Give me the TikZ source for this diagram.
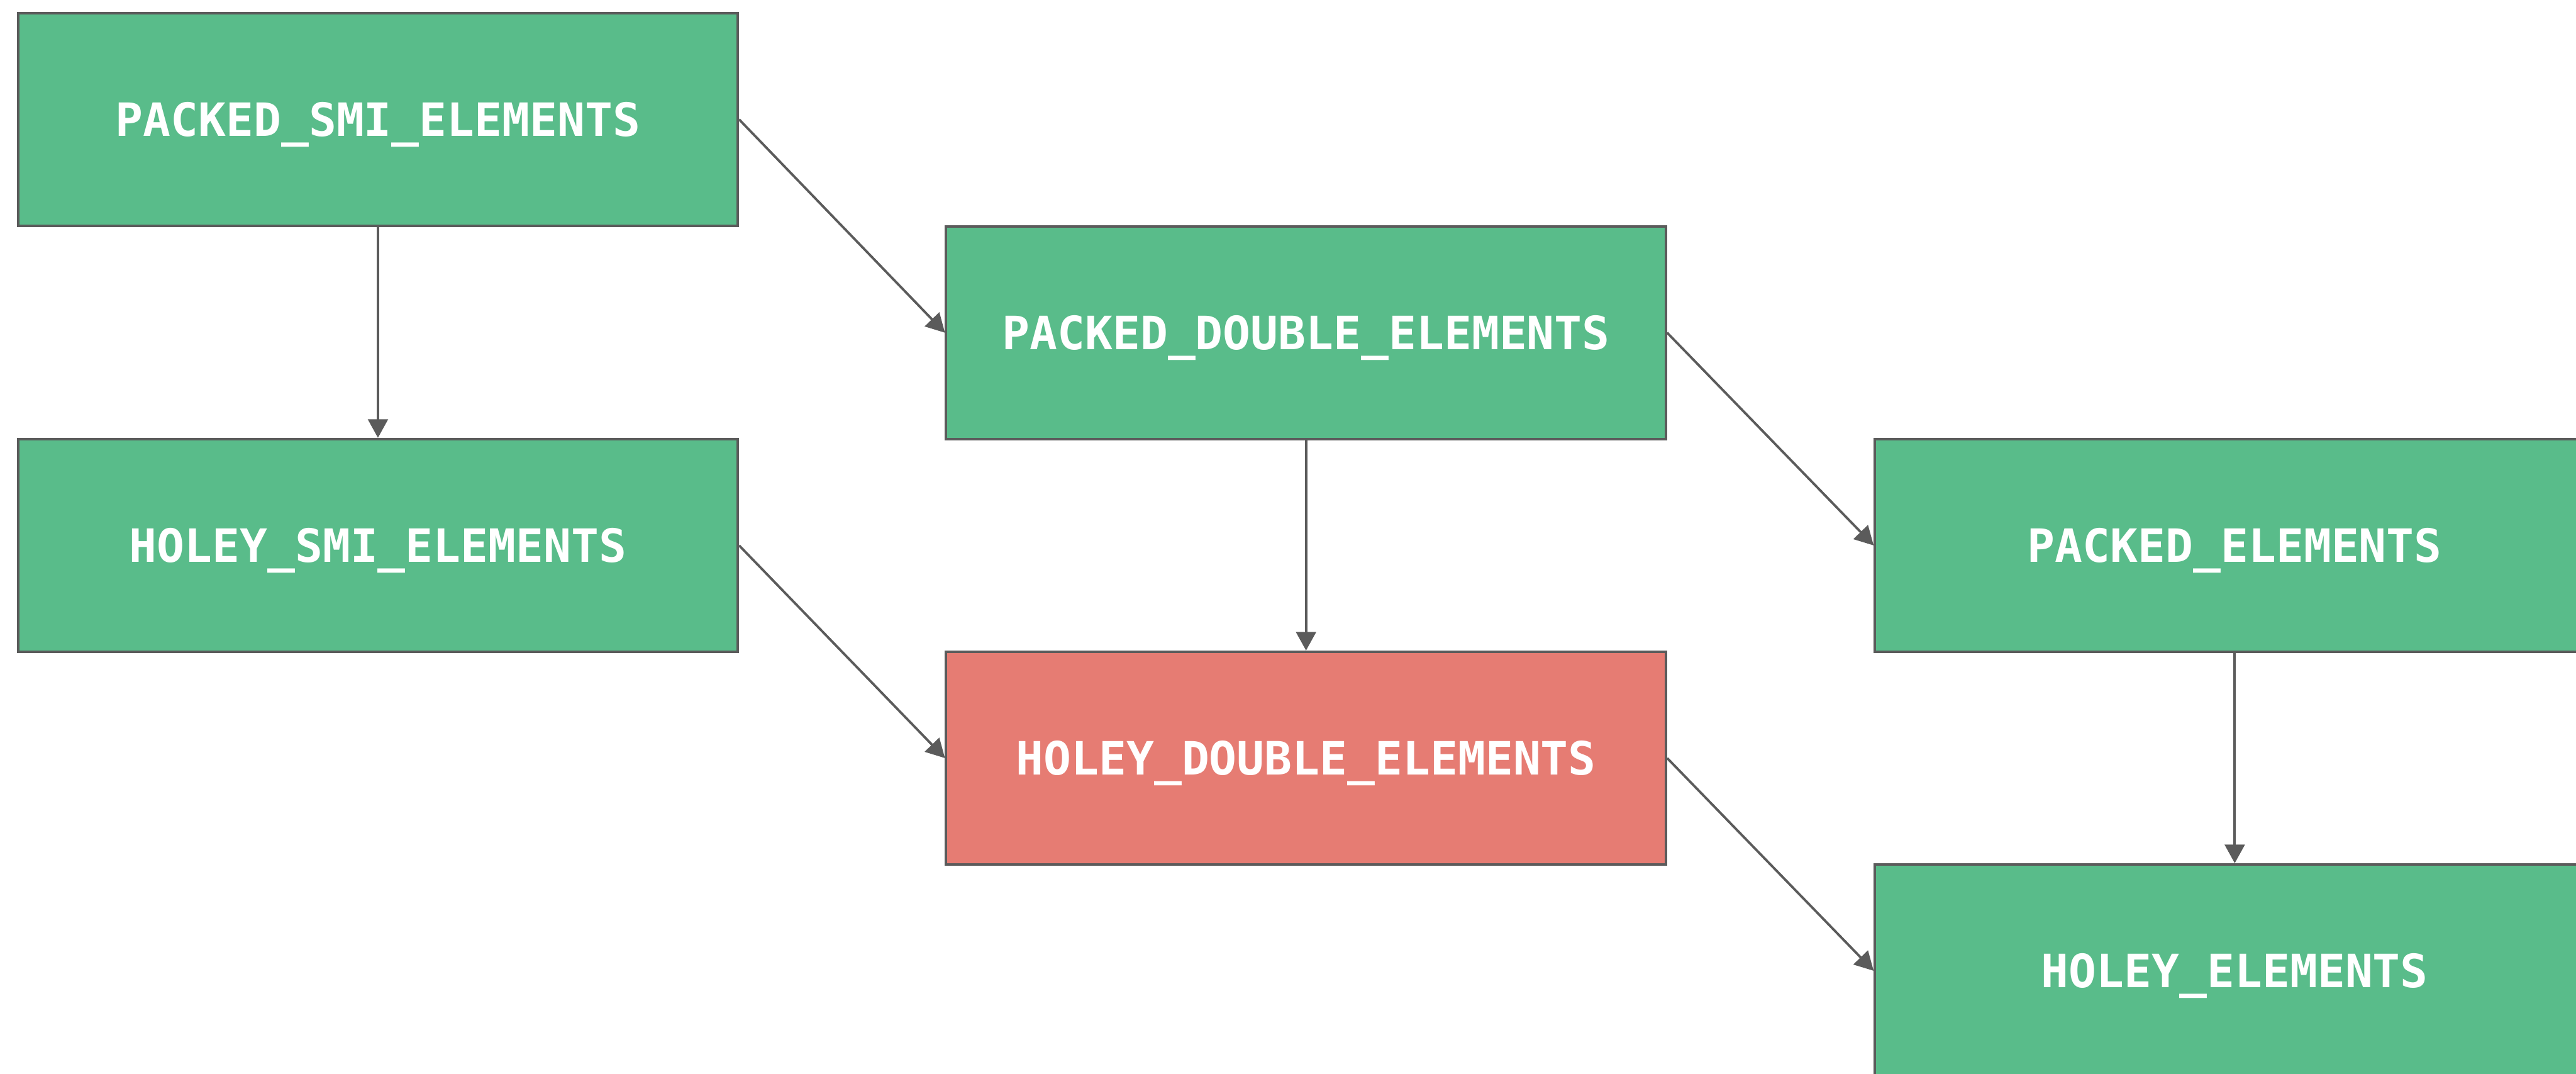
\documentclass[tikz,border=0pt]{standalone}
\usepackage{fontspec}
\setmonofont{DejaVu Sans Mono}
\usetikzlibrary{arrows.meta}
\definecolor{kindgreen}{RGB}{89,188,138}
\definecolor{kindred}{RGB}{230,124,115}
\definecolor{edgegray}{RGB}{91,91,91}
\tikzset{
every picture/.style={
line width=1.1pt
},
kindbox/.style={draw=edgegray, fill=kindgreen, text=white, font=\ttfamily\bfseries\fontsize{21}{24}\selectfont, text height=0.54cm, text depth=0pt, minimum width=11.58cm, minimum height=3.42cm, inner sep=0pt},
slowbox/.style={kindbox, fill=kindred},
>={Triangle[length=0.3cm, width=0.32cm]}
}

\begin{document}
\begin{tikzpicture}

  \useasboundingbox (0,0) rectangle (41.44,-17.27);
  \clip (0,0) rectangle (41.44,-17.27);

  \node (psmi) [kindbox] at (6.08,-1.92)  {PACKED\_SMI\_ELEMENTS};
  \node (hsmi) [kindbox] at (6.08,-8.77)  {HOLEY\_SMI\_ELEMENTS};

  \node (pdbl) [kindbox] at (21.01,-5.35) {PACKED\_DOUBLE\_ELEMENTS};
  \node (hdbl) [slowbox] at (21.01,-12.19) {HOLEY\_DOUBLE\_ELEMENTS};

  \node (pel) [kindbox] at (35.95,-8.77)  {PACKED\_ELEMENTS};
  \node (hel) [kindbox] at (35.95,-15.61) {HOLEY\_ELEMENTS};

  \draw [->, edgegray] (psmi.south) -- (hsmi.north);
  \draw [->, edgegray] (psmi.east) -- (pdbl.west);
  \draw [->, edgegray] (hsmi.east) -- (hdbl.west);

  \draw [->, edgegray] (pdbl.south) -- (hdbl.north);
  \draw [->, edgegray] (pdbl.east) -- (pel.west);
  \draw [->, edgegray] (hdbl.east) -- (hel.west);

  \draw [->, edgegray] (pel.south) -- (hel.north);

\end{tikzpicture}
\end{document}
